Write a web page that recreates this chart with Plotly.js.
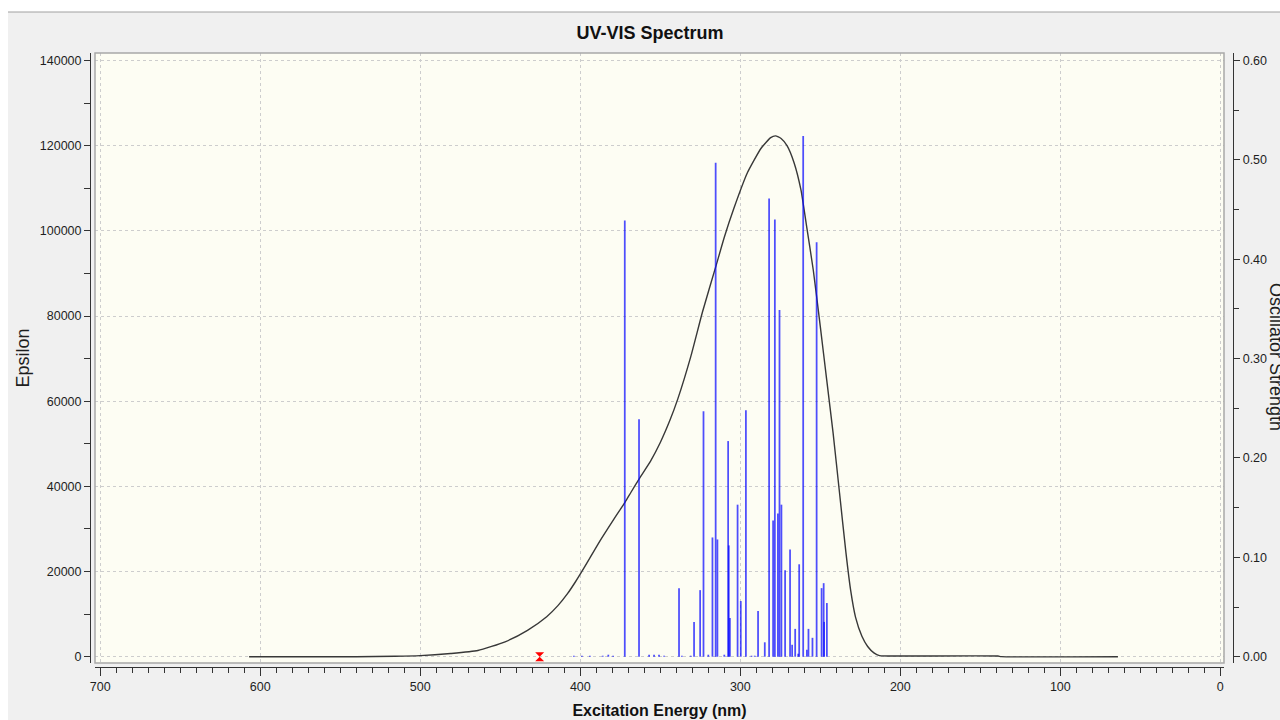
<!DOCTYPE html>
<html><head><meta charset="utf-8">
<script src="https://cdn.plot.ly/plotly-3.0.1.min.js"></script>
<style>html,body{margin:0;padding:0;background:#fff;}#chart{width:1280px;height:720px;}</style>
</head><body><div id="chart"></div>
<script>
// Broadened spectrum (wavelength nm, epsilon)
const curveNm  = [607, 580, 540, 516, 500, 481, 464, 447, 433, 421, 414, 408, 403, 396, 389, 379, 372, 368.5, 363, 356, 350, 344, 339, 331, 323.6, 315, 310, 304, 295.5, 287, 281, 278, 274.5, 270.8, 266.4, 262.1, 258.7, 254.4, 250, 246, 242, 238, 234, 231, 228, 224, 220.4, 216.5, 213, 200, 139, 137, 64];
const curveEps = [0, 0, 0, 100, 250, 750, 1450, 3500, 6200, 9400, 12000, 14800, 17600, 21900, 26400, 32300, 36300, 38500, 41900, 46000, 50300, 55500, 60600, 70400, 81000, 92000, 98500, 105300, 113700, 119400, 121900, 122300, 121700, 120000, 116000, 109600, 101400, 90800, 77500, 65000, 52500, 38500, 24500, 15500, 9300, 4800, 2400, 900, 250, 150, 150, 20, 0];

// Excitations (wavelength nm, oscillator strength)
const stickNm = [404, 399, 394, 386, 382.5, 379.5, 372.2, 363.3, 357, 353.9, 350.8, 347.6, 338.3, 336.5, 331, 328.9, 325.1, 323.0, 320, 317.4, 315.4, 314.3, 310, 307.6, 307.2, 306.5, 301.7, 299.7, 296.5, 293, 291, 288.9, 284.7, 282.0, 279.5, 278.4, 276.5, 275.5, 274.3, 272.0, 268.9, 267.6, 265.7, 263.8, 263.2, 260.7, 258.4, 257.4, 254.9, 252.3, 249.2, 247.9, 247.6, 245.9];
const stickF  = [0.001, 0.001, 0.001, 0.001, 0.002, 0.001, 0.439, 0.239, 0.002, 0.002, 0.002, 0.001, 0.069, 0.001, 0.001, 0.035, 0.067, 0.247, 0.002, 0.120, 0.497, 0.118, 0.002, 0.217, 0.112, 0.039, 0.153, 0.056, 0.248, 0.001, 0.001, 0.046, 0.0145, 0.461, 0.137, 0.440, 0.144, 0.349, 0.153, 0.087, 0.108, 0.012, 0.028, 0.003, 0.093, 0.524, 0.007, 0.028, 0.019, 0.417, 0.069, 0.074, 0.035, 0.054];

// Red marker
const markNm = [425.4];
const markF  = [0];

const titleText = 'UV-VIS Spectrum';
const xTitle = 'Excitation Energy (nm)';
const yTitle = 'Epsilon';
const y2Title = 'Oscillator Strength';

// layout geometry helpers (pixels -> paper)
const L = 90, R = 47, T = 53, B = 53, W = 1280 - L - R, H = 720 - T - B;
const px = v => (v - L) / W;
const py = v => (720 - B - v) / H;

const FONT = 'Liberation Sans, Arial, sans-serif';
const tickFont = {family: FONT, size: 12.5, color: '#1e1e1e'};
const gridC = '#cdcdcd';

const traces = [
  {type: 'scatter', mode: 'lines', x: curveNm, y: curveEps, xaxis: 'x', yaxis: 'y',
   line: {color: '#383838', width: 1.4, shape: 'spline', smoothing: 0.5}, hoverinfo: 'skip'},
  {type: 'bar', x: stickNm, y: stickF, xaxis: 'x', yaxis: 'y2', width: 1.1,
   marker: {color: 'rgba(10,10,255,0.72)', line: {width: 0}}},
  {type: 'scatter', mode: 'markers', x: markNm, y: markF, xaxis: 'x', yaxis: 'y2',
   marker: {symbol: 'hourglass', size: 9, color: '#ff0000'}}
];

const yr = [-1479, 141760];
const layout = {
  width: 1280, height: 720,
  margin: {l: L, r: R, t: T, b: B, pad: 0},
  paper_bgcolor: '#f0f0f0', plot_bgcolor: '#fdfdf3',
  showlegend: false, barmode: 'overlay',
  title: {text: '<b>' + titleText + '</b>', font: {family: FONT, size: 18, color: '#111'},
          xref: 'container', yref: 'container', x: 650 / 1280, xanchor: 'center', y: 1 - 33 / 720, yanchor: 'middle'},
  xaxis: {domain: [px(95), px(1224)], anchor: 'free', position: 0,
          range: [703.3, -2.3], autorange: false,
          tick0: 0, dtick: 100, ticks: 'outside', ticklen: 8, tickwidth: 1, tickcolor: '#333',
          showline: true, linecolor: '#333', linewidth: 1.2,
          showgrid: true, gridcolor: gridC, griddash: '3px,3px', gridwidth: 1, zeroline: false,
          minor: {dtick: 10, tick0: 0, ticks: 'outside', ticklen: 5, tickcolor: '#333', showgrid: false},
          tickfont: tickFont,
          title: {text: '<b>' + xTitle + '</b>', font: {family: FONT, size: 16, color: '#111'}, standoff: 11}},
  yaxis: {domain: [py(663), 1], anchor: 'free', position: 0,
          range: yr, autorange: false,
          tick0: 0, dtick: 20000, tickformat: 'd', ticks: 'outside', ticklen: 6, tickcolor: '#333',
          showline: true, linecolor: '#333', linewidth: 1.2,
          showgrid: true, gridcolor: gridC, griddash: '3px,3px', gridwidth: 1, zeroline: false,
          minor: {dtick: 10000, tick0: 0, ticks: 'outside', ticklen: 6, tickcolor: '#333', showgrid: false},
          tickfont: tickFont,
          title: {text: yTitle, font: {family: FONT, size: 18, color: '#1e1e1e'}, standoff: 4}},
  yaxis2: {domain: [py(663), 1], overlaying: 'y', side: 'right', anchor: 'free', position: 1,
           range: [yr[0] * 0.6 / 140000, yr[1] * 0.6 / 140000], autorange: false,
           tick0: 0, dtick: 0.1, tickformat: '.2f', ticks: 'outside', ticklen: 6, tickcolor: '#333',
           showline: true, linecolor: '#333', linewidth: 1.2,
           showgrid: false, zeroline: false,
           minor: {dtick: 0.05, tick0: 0, ticks: 'outside', ticklen: 5, tickcolor: '#333', showgrid: false},
           tickfont: tickFont},
  annotations: [
    {text: y2Title, textangle: 90, xref: 'paper', yref: 'paper', x: px(1276), y: py(357),
     xanchor: 'center', yanchor: 'middle', showarrow: false, font: {family: FONT, size: 18, color: '#1e1e1e'}}
  ],
  shapes: [
    {type: 'rect', xref: 'x domain', yref: 'y domain', x0: 0, x1: 1, y0: 0, y1: 1,
     line: {color: '#a8a8a8', width: 1.5}, fillcolor: 'rgba(0,0,0,0)', layer: 'above'},
    {type: 'rect', xref: 'paper', yref: 'paper', x0: px(0), x1: px(1280), y0: py(12), y1: py(0),
     fillcolor: '#ffffff', line: {width: 0}, layer: 'below'},
    {type: 'rect', xref: 'paper', yref: 'paper', x0: px(0), x1: px(8), y0: py(720), y1: py(0),
     fillcolor: '#ffffff', line: {width: 0}, layer: 'below'},
    {type: 'line', xref: 'paper', yref: 'paper', x0: px(8), x1: px(1280), y0: py(12), y1: py(12),
     line: {color: '#a0a0a0', width: 1}}
  ]
};

Plotly.newPlot('chart', traces, layout, {displayModeBar: false, staticPlot: true});
</script>
</body></html>
